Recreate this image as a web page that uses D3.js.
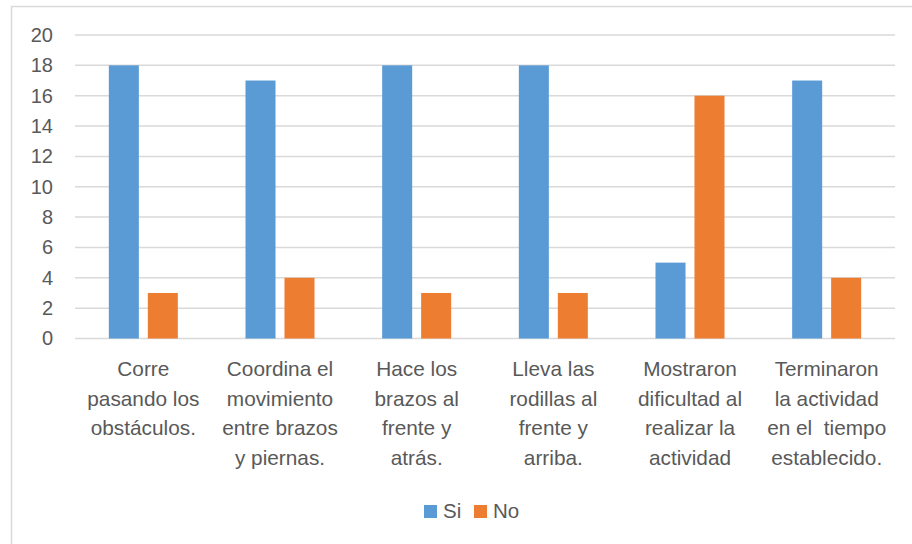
<!DOCTYPE html>
<html>
<head>
<meta charset="utf-8">
<script src="https://cdn.jsdelivr.net/npm/d3@7"></script>
<style>
  body { margin: 0; background: #fff; }
  text { font-family: "Liberation Sans", Arial, sans-serif; fill: #595959; }
</style>
</head>
<body>
<div id="chart"></div>
<script>
// chart data
const categories = [
    "Corre\npasando los\nobstáculos.",
    "Coordina el\nmovimiento\nentre brazos\ny piernas.",
    "Hace los\nbrazos al\nfrente y\natrás.",
    "Lleva las\nrodillas al\nfrente y\narriba.",
    "Mostraron\ndificultad al\nrealizar la\nactividad",
    "Terminaron\nla actividad\nen el  tiempo\nestablecido."
];
const seriesNames = ["Si", "No"];
const siValues = [18, 17, 18, 18, 5, 17];
const noValues = [3, 4, 3, 3, 16, 4];
const yTicks = [0, 2, 4, 6, 8, 10, 12, 14, 16, 18, 20];
const colors = ["#5b9bd5", "#ed7d31"];

const width = 912, height = 544;
const plotLeft = 75, plotRight = 895, plotTop = 35, plotBottom = 338.5;

const svg = d3.select("#chart")
    .append("svg")
    .attr("width", width)
    .attr("height", height);

// chart frame (only top and left edges are visible in the crop)
svg.append("path")
    .attr("d", "M11.5," + height + "V6.5H" + width)
    .attr("fill", "none")
    .attr("stroke", "#d9d9d9")
    .attr("stroke-width", 1.5);

var y = d3.scaleLinear()
    .domain([0, 20])
    .range([plotBottom, plotTop]);

var x0 = d3.scaleBand()
    .domain(categories)
    .range([plotLeft, plotRight])
    .padding(0);

var groupWidth = 69;
var x1 = d3.scaleBand()
    .domain(seriesNames)
    .range([0, groupWidth])
    .paddingInner(0.23)
    .paddingOuter(0);

// gridlines
svg.append("g")
    .selectAll("line")
    .data(yTicks)
    .enter()
    .append("line")
    .attr("x1", plotLeft)
    .attr("x2", plotRight)
    .attr("y1", d => y(d))
    .attr("y2", d => y(d))
    .attr("stroke", "#d9d9d9")
    .attr("stroke-width", 1.5);

// y axis labels
svg.append("g")
    .attr("transform", "translate(" + 53 + ",0)")
    .call(d3.axisLeft(y).tickValues(yTicks).tickSize(0).tickPadding(0))
    .call(g => g.select(".domain").remove())
    .selectAll("text")
        .attr("font-size", "20")
        .attr("font-family", null)
        .attr("fill", "#595959");

// bars
const rows = categories.map((c, i) => ({ cat: c, values: [siValues[i], noValues[i]] }));

var groups = svg.append("g")
    .selectAll("g")
    .data(rows)
    .enter()
    .append("g")
    .attr("transform", d => "translate(" + (x0(d.cat) + (x0.bandwidth() - groupWidth) / 2) + ",0)");

groups.selectAll("rect")
    .data(d => d.values.map((v, j) => ({ key: seriesNames[j], value: v, idx: j })))
    .enter()
    .append("rect")
    .attr("x", d => x1(d.key))
    .attr("y", d => y(d.value))
    .attr("width", x1.bandwidth())
    .attr("height", d => y(0) - y(d.value))
    .attr("fill", d => colors[d.idx]);

// category labels
var catLabels = svg.append("g")
    .selectAll("text")
    .data(categories)
    .enter()
    .append("text")
    .attr("text-anchor", "middle")
    .attr("font-size", "20.8")
    .style("white-space", "pre")
    .attr("transform", d => "translate(" + (x0(d) + x0.bandwidth() / 2) + ",376)");

catLabels.selectAll("tspan")
    .data(d => d.split("\n"))
    .enter()
    .append("tspan")
    .attr("x", 0)
    .attr("y", (d, i) => i * 29.7)
    .text(d => d);

// legend
var legendX = [424, 474];
var legend = svg.append("g")
    .selectAll("g")
    .data(seriesNames)
    .enter()
    .append("g")
    .attr("transform", (d, i) => "translate(" + legendX[i] + ",505)");

legend.append("rect")
    .attr("width", 13)
    .attr("height", 13)
    .attr("fill", (d, i) => colors[i]);

legend.append("text")
    .attr("x", 19)
    .attr("y", 13)
    .attr("font-size", "20.5")
    .text(d => d);
</script>
</body>
</html>
